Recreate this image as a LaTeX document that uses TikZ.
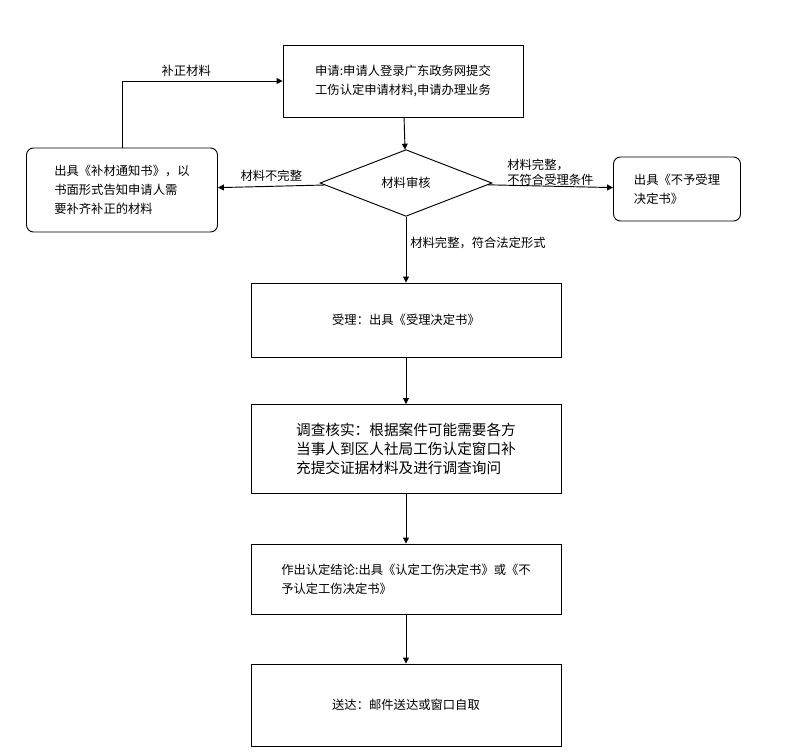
\documentclass[tikz,border=0pt]{standalone}
\usepackage{fontspec}
\setmainfont{Noto Sans CJK SC}
\usetikzlibrary{shapes.geometric,arrows.meta}
\tikzset{
  box/.style={draw,thick,align=center,font=\fontsize{10.5}{16}\selectfont},
  rbox/.style={box,rounded corners=6pt,align=left},
  dec/.style={draw,thick,diamond,aspect=2.6,inner sep=1pt,font=\fontsize{10.5}{13}\selectfont},
  arr/.style={thick,-{Triangle[length=5pt,width=5pt]}},
  lbl/.style={font=\fontsize{10.5}{13}\selectfont,align=left}
}
\begin{document}
\begin{tikzpicture}[x=0.03cm,y=-0.03cm]
\useasboundingbox (0,0) rectangle (800,755);
% main flow
\node[box,minimum width=7.2cm,minimum height=2.16cm] (apply) at (403,81) {申请:申请人登录广东政务网提交\\工伤认定申请材料,申请办理业务};
\node[dec,minimum width=5.16cm,minimum height=2cm] (check) at (406,183) {材料审核};
\node[rbox,minimum width=5.73cm,minimum height=2.52cm] (fix) at (122,190) {出具《补材通知书》，以\\书面形式告知申请人需\\要补齐补正的材料};
\node[rbox,minimum width=3.81cm,minimum height=1.92cm] (reject) at (677,189) {出具《不予受理\\决定书》};
\node[box,minimum width=9.3cm,minimum height=2.22cm] (accept) at (406,320) {受理：出具《受理决定书》};
\node[box,minimum width=9.3cm,minimum height=2.67cm,align=left,font=\fontsize{12.5}{16}\selectfont] (survey) at (406,449) {调查核实：根据案件可能需要各方\\当事人到区人社局工伤认定窗口补\\充提交证据材料及进行调查询问};
\node[box,minimum width=9.3cm,minimum height=2.1cm,align=left] (decide) at (406,579) {作出认定结论:出具《认定工伤决定书》或《不\\予认定工伤决定书》};
\node[box,minimum width=9.3cm,minimum height=2.46cm] (send) at (406,705) {送达：邮件送达或窗口自取};
% connectors
\draw[arr] (apply) -- (check);
\draw[arr] (check) -- node[lbl,above] {材料不完整} (fix);
\draw[arr] (check) -- node[lbl,above=-3pt] {材料完整，\\不符合受理条件} (reject);
\draw[arr] (check) -- node[lbl,right,pos=0.4] {材料完整，符合法定形式} (accept);
\draw[arr] (fix.north) |- node[lbl,above,pos=0.7] {补正材料} (apply.west);
\draw[arr] (accept) -- (survey);
\draw[arr] (survey) -- (decide);
\draw[arr] (decide) -- (send);
\end{tikzpicture}
\end{document}
